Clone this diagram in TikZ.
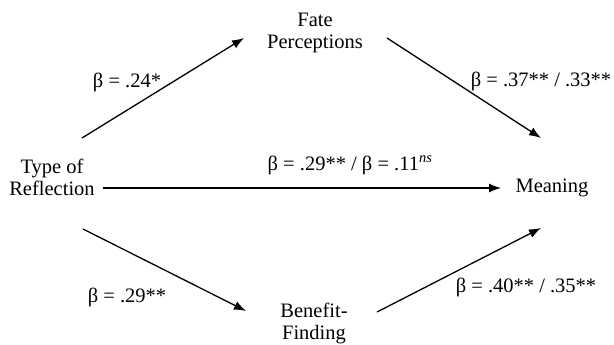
\documentclass[tikz,border=0pt]{standalone}
\usepackage{fontspec}
\setmainfont{Liberation Serif}
\usetikzlibrary{arrows.meta}
\begin{document}
\begin{tikzpicture}[x=1pt,y=-1pt,
  every node/.style={font=\fontsize{20.5}{22}\selectfont, inner sep=0pt, outer sep=0pt},
  var/.style={align=center},
  lbl/.style={anchor=base},
  conn/.style={line width=1.3pt, -{Latex[length=12pt,width=9pt]}}]
\useasboundingbox (0,0) rectangle (614,345);
% variables
\node[var] (tor)  at (52,177) {Type of\\Reflection};
\node[var] (fate) at (315,33) {Fate\\Perceptions};
\node[var] (ben)  at (314,323) {Benefit-\\Finding};
\node[lbl] (mean) at (552,192) {Meaning};
% connector ends
\coordinate (a1s) at (82,138);  \coordinate (a1e) at (244,38);
\coordinate (a2s) at (387,38);  \coordinate (a2e) at (541,138);
\coordinate (a3s) at (103,188); \coordinate (a3e) at (501,188);
\coordinate (a4s) at (83,229);  \coordinate (a4e) at (246,311);
\coordinate (a5s) at (377,312); \coordinate (a5e) at (541,228);
\draw[conn] (a1s) -- (a1e);
\draw[conn] (a2s) -- (a2e);
\draw[conn] (a3s) -- (a3e);
\draw[conn] (a4s) -- (a4e);
\draw[conn] (a5s) -- (a5e);
% labels
\node[lbl] (l1) at (127,88) {β = .24*};
\node[lbl] (l2) at (541,87) {β = .37** / .33**};
\node[lbl] (l3) at (350,170) {β = .29** / β = .11\textsuperscript{\itshape ns}};
\node[lbl] (l4) at (127,302) {β = .29**};
\node[lbl] (l5) at (526,292) {β = .40** / .35**};
\end{tikzpicture}
\end{document}
